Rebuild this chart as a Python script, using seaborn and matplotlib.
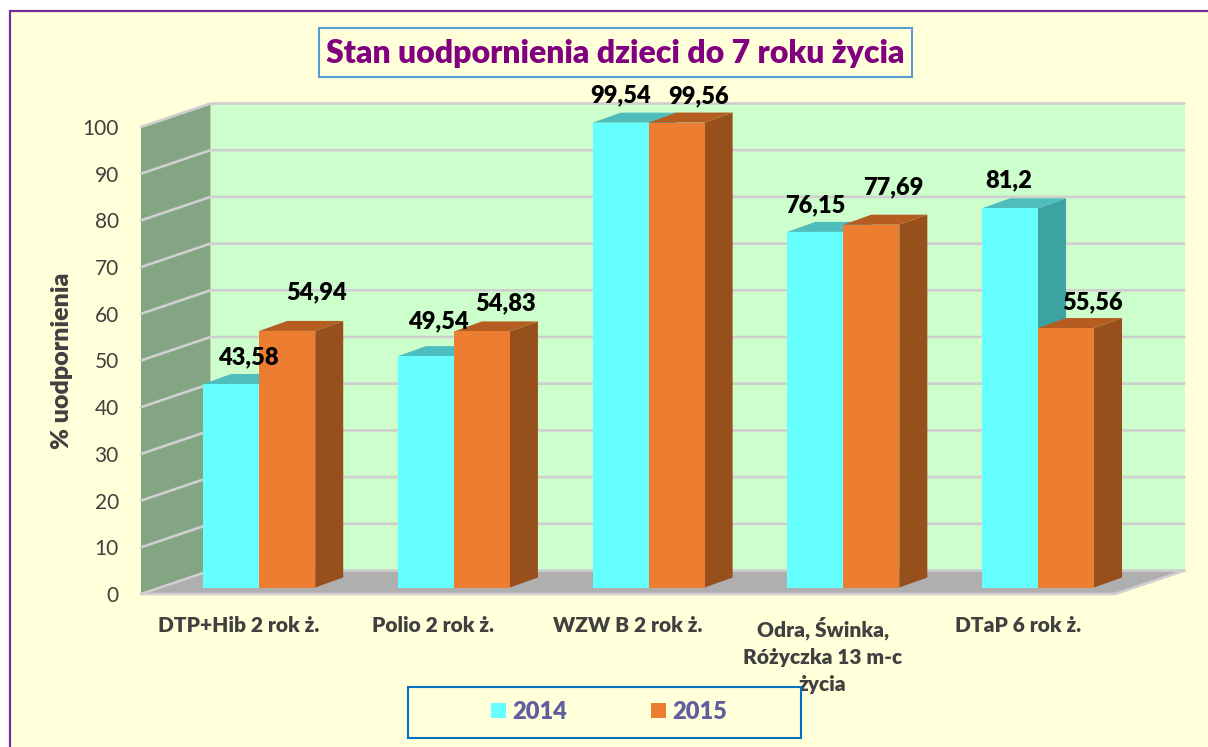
import matplotlib
matplotlib.use('Agg')
import matplotlib.pyplot as plt
from matplotlib.patches import Polygon, Rectangle
from matplotlib.transforms import Affine2D
import pandas as pd
import seaborn as sns

categories = ['DTP+Hib 2 rok ż.', 'Polio 2 rok ż.', 'WZW B 2 rok ż.',
              'Odra, Świnka,\nRóżyczka 13 m-c\nżycia', 'DTaP 6 rok ż.']
years = ['2014', '2015']
values_2014 = [43.58, 49.54, 99.54, 76.15, 81.2]
values_2015 = [54.94, 54.83, 99.56, 77.69, 55.56]
y_ticks = list(range(0, 101, 10))

# hand placed labels, offset in px from the top centre of each bar
label_dx = [[17, 12, 0, 0, -1], [29, 24, 22, 22, 26]]
label_dy = [[27, 35, 27, 27, 28], [39, 28, 26, 37, 26]]

W, H = 1208, 747
PAGE = '#FFFFD9'
BACK = '#CCFFCC'
WALL = '#84A584'
FLOOR = '#AFAFAF'
GRID = '#CFCFCF'
TEXT = '#404040'
HEAVY = 800
colors = {'2014': '#66FFFF', '2015': '#ED7D31'}
side_colors = {'2014': '#3CA3A3', '2015': '#97501C'}
top_colors = {'2014': '#4DBDBD', '2015': '#B55D20'}

sns.set_theme(style='white')
plt.rcParams['font.family'] = ['Lato', 'DejaVu Sans']

df = pd.DataFrame({
    'kategoria': categories * 2,
    'rok': [years[0]] * 5 + [years[1]] * 5,
    'wartosc': values_2014 + values_2015,
})

fig = plt.figure(figsize=(W / 100, H / 100), dpi=100, facecolor='white')
px = Affine2D().scale(1, -1).translate(0, H)  # picture pixels, y going down


def box(left, top, right, bottom):
    return [left / W, 1 - bottom / H, (right - left) / W, (bottom - top) / H]


# front plane of the axis, holds ticks and walls
ax_front = fig.add_axes(box(141, 127, 1115, 594), zorder=1)
ax_front.patch.set_visible(False)
ax_front.set_xlim(-0.5, 4.5)
ax_front.set_ylim(0, 100)
ax_front.set_xticks(range(5))
ax_front.set_xticklabels(categories, fontsize=15, fontweight=HEAVY, color=TEXT, linespacing=1.5)
ax_front.set_yticks(y_ticks)
ax_front.set_yticklabels(y_ticks, fontsize=15, color=TEXT)
ax_front.tick_params(axis='x', length=0, pad=16)
ax_front.tick_params(axis='y', length=0, pad=16)
ax_front.set_ylabel('% uodpornienia', fontsize=18, fontweight=HEAVY, color=TEXT)
ax_front.yaxis.set_label_coords((73 - 141) / 974, (594 - 361) / 467)
sns.despine(ax=ax_front, left=True, bottom=True)

# page and frame
fig.add_artist(Rectangle((10, 11), W, H, transform=px, fc=PAGE, ec='#7030A0', lw=1.6, zorder=-5))

# walls and floor
dx, dy = 69.5, 23.5
x0, x1, y0, y100 = 141, 1115, 594, 127
ax_front.add_patch(Polygon([(x0, y0), (x0 + dx, y0 - dy), (x0 + dx, y100 - dy), (x0, y100)],
                           transform=px, fc=WALL, ec='none', clip_on=False, zorder=1))
ax_front.add_patch(Rectangle((x0 + dx, y100 - dy), x1 - x0, y0 - y100,
                             transform=px, fc=BACK, ec='none', clip_on=False, zorder=1))
ax_front.add_patch(Polygon([(x0, y0), (x1, y0), (x1 + dx, y0 - dy), (x0 + dx, y0 - dy)],
                           transform=px, fc=FLOOR, ec='none', clip_on=False, zorder=1.5))
for v in y_ticks:
    yy = 747 - ax_front.transData.transform((0, v))[1]
    ax_front.plot([x0, x0 + dx, x1 + dx], [yy, yy - dy, yy - dy], transform=px,
                  color=GRID, lw=1.9, clip_on=False, zorder=2, solid_joinstyle='miter')
ax_front.plot([x0, x1, x1 + dx], [y0, y0, y0 - dy], transform=px, color=GRID, lw=1.9,
              clip_on=False, zorder=2)

# plane of the bar fronts, same scale but shifted into the chart
ax = fig.add_axes(box(161.9, 120.5, 1135.4, 587.5), zorder=2)
ax.patch.set_visible(False)
sns.barplot(data=df, x='kategoria', y='wartosc', hue='rok', order=categories, hue_order=years,
            palette=colors, saturation=1, width=0.575, gap=0, linewidth=0, ax=ax)
ax.set_xlim(-0.5, 4.5)
ax.set_ylim(0, 100)
ax.axis('off')

depth_x, depth_y = 28, 10
for h, container in enumerate(ax.containers):
    year = years[h]
    for i, bar in enumerate(container):
        bar.set_zorder(1)
        left, top = ax.transData.transform((bar.get_x(), bar.get_height()))
        right, base = ax.transData.transform((bar.get_x() + bar.get_width(), 0))
        top, base = H - top, H - base
        ax.add_patch(Polygon([(right, base), (right + depth_x, base - depth_y),
                              (right + depth_x, top - depth_y), (right, top)],
                             transform=px, fc=side_colors[year], ec='none',
                             clip_on=False, zorder=0.5 + h / 10))
        ax.add_patch(Polygon([(left, top), (right, top), (right + depth_x, top - depth_y),
                              (left + depth_x, top - depth_y)],
                             transform=px, fc=top_colors[year], ec='none',
                             clip_on=False, zorder=0.5 + h / 10))
        ax.annotate(f'{bar.get_height():g}'.replace('.', ','),
                    (bar.get_x() + bar.get_width() / 2, bar.get_height()),
                    xytext=(label_dx[h][i] * 0.72, label_dy[h][i] * 0.72),
                    textcoords='offset points', ha='center', va='center',
                    fontsize=17, fontweight=HEAVY, color='black', annotation_clip=False, zorder=6)

# title
ax.add_patch(Rectangle((318.5, 27.5), 593, 49, transform=px, fc=PAGE, ec='#5B9BD5', lw=1.5,
                       clip_on=False, zorder=4))
fig.text(615 / W, 1 - 53 / H, 'Stan uodpornienia dzieci do 7 roku życia', ha='center', va='center',
         fontsize=23, fontweight=HEAVY, color='#800080', zorder=10)

# legend
ax.add_patch(Rectangle((407.5, 686.5), 393, 51, transform=px, fc=PAGE, ec='#0070C0', lw=1.5,
                       clip_on=False, zorder=4))
sns.move_legend(ax, loc='center', bbox_to_anchor=(609, 712), bbox_transform=px, ncol=2, title=None,
                frameon=False, prop={'size': 17, 'weight': HEAVY}, labelcolor='#5F5F9F',
                handlelength=0.63, handleheight=0.63, handletextpad=0.25, columnspacing=3.57)

fig.savefig('out.png', dpi=100)
